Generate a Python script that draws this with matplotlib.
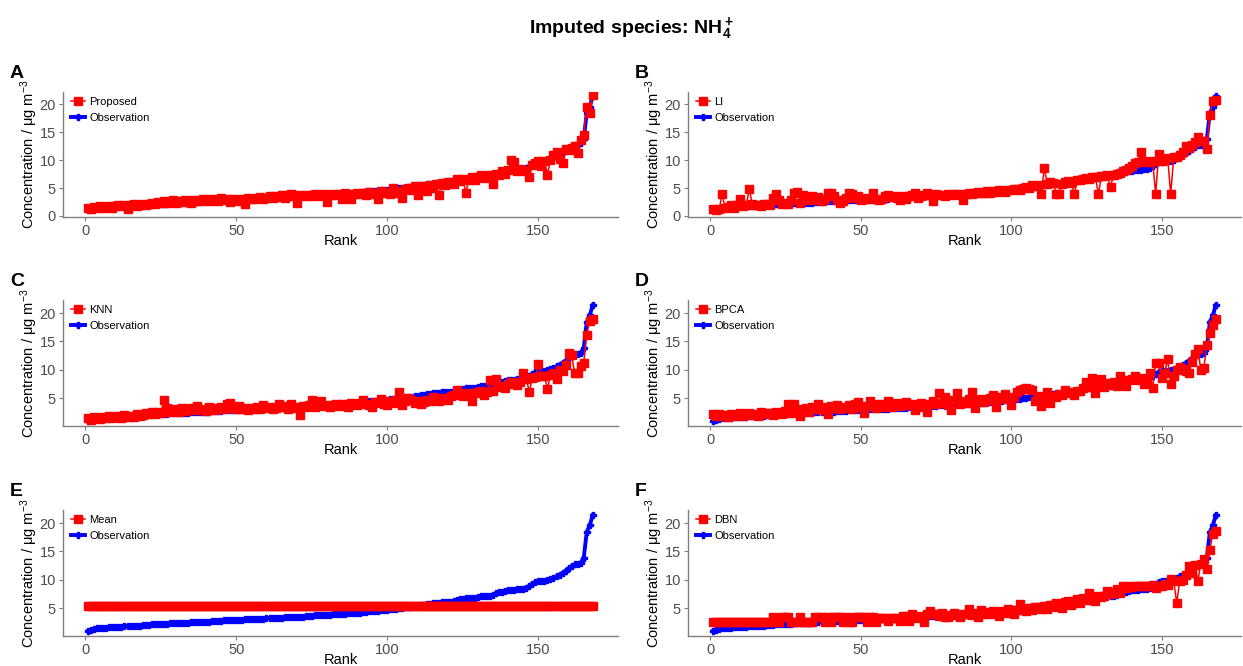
import matplotlib
matplotlib.use("Agg")
import matplotlib.pyplot as plt
import numpy as np

plt.rcParams['font.family'] = ['Liberation Sans', 'DejaVu Sans']
plt.rcParams['mathtext.fontset'] = 'custom'
plt.rcParams['mathtext.rm'] = 'Liberation Sans'
plt.rcParams['mathtext.it'] = 'Liberation Sans:italic'
plt.rcParams['mathtext.bf'] = 'Liberation Sans:bold'

# ---- data ----
rank = list(range(1, 169))

observation = [
    1.0, 1.2, 1.3, 1.4, 1.4, 1.5, 1.5, 1.6, 1.6, 1.7,
    1.7, 1.7, 1.8, 1.8, 1.8, 1.9, 1.9, 1.9, 2.0, 2.0,
    2.0, 2.1, 2.1, 2.1, 2.2, 2.2, 2.2, 2.3, 2.3, 2.3,
    2.4, 2.4, 2.4, 2.4, 2.5, 2.5, 2.5, 2.6, 2.6, 2.6,
    2.6, 2.7, 2.7, 2.7, 2.7, 2.8, 2.8, 2.8, 2.8, 2.9,
    2.9, 2.9, 3.0, 3.0, 3.0, 3.0, 3.1, 3.1, 3.1, 3.2,
    3.2, 3.2, 3.3, 3.3, 3.3, 3.4, 3.4, 3.4, 3.5, 3.5,
    3.5, 3.5, 3.6, 3.6, 3.6, 3.7, 3.7, 3.7, 3.8, 3.8,
    3.8, 3.9, 3.9, 3.9, 4.0, 4.0, 4.1, 4.1, 4.1, 4.2,
    4.2, 4.3, 4.3, 4.4, 4.4, 4.5, 4.5, 4.6, 4.7, 4.7,
    4.8, 4.8, 4.9, 5.0, 5.0, 5.1, 5.2, 5.2, 5.3, 5.4,
    5.5, 5.6, 5.7, 5.7, 5.8, 5.9, 5.9, 6.0, 6.0, 6.1,
    6.1, 6.2, 6.5, 6.6, 6.6, 6.7, 6.7, 6.8, 6.8, 6.9,
    7.1, 7.2, 7.2, 7.2, 7.3, 7.6, 7.8, 7.9, 8.0, 8.1,
    8.2, 8.2, 8.3, 8.4, 8.4, 8.6, 8.9, 9.3, 9.6, 9.7,
    9.8, 9.8, 9.9, 10.1, 10.3, 10.6, 10.9, 11.2, 11.6, 12.0,
    12.4, 12.7, 12.8, 13.0, 13.8, 18.4, 19.6, 21.4]

proposed = [
    1.5, 1.3, 1.6, 1.4, 1.7, 1.5, 1.6, 1.8, 1.5, 1.7,
    2.0, 1.7, 1.9, 1.2, 1.9, 2.1, 1.8, 2.0, 2.2, 1.9,
    2.1, 2.4, 2.2, 2.5, 2.3, 2.6, 2.4, 2.5, 2.8, 2.4,
    2.7, 2.5, 2.8, 2.6, 2.4, 2.9, 2.7, 2.6, 3.0, 2.8,
    2.7, 3.1, 2.9, 2.6, 3.2, 2.8, 3.0, 2.5, 3.1, 2.9,
    2.7, 3.0, 2.1, 3.3, 3.1, 3.0, 3.2, 3.4, 3.1, 3.3,
    3.5, 3.2, 3.6, 3.4, 3.7, 3.3, 3.8, 3.9, 3.5, 2.3,
    3.7, 3.6, 3.8, 3.5, 3.7, 3.9, 3.6, 3.8, 4.0, 2.5,
    3.8, 4.0, 3.7, 3.9, 3.0, 4.1, 3.8, 3.0, 4.0, 4.2,
    3.9, 4.1, 3.7, 4.3, 4.0, 4.2, 3.0, 4.4, 4.1, 4.3,
    4.0, 5.0, 4.5, 4.2, 3.3, 4.9, 5.1, 4.6, 5.3, 3.8,
    5.4, 5.2, 4.5, 5.6, 5.0, 5.8, 3.7, 5.9, 5.5, 6.0,
    6.1, 5.7, 6.6, 6.2, 6.7, 4.2, 6.5, 6.9, 6.4, 7.0,
    7.3, 6.8, 7.2, 7.4, 5.8, 7.6, 7.3, 8.0, 7.5, 8.2,
    10.0, 9.7, 8.0, 8.5, 8.3, 8.1, 7.0, 9.1, 9.5, 9.8,
    8.9, 9.9, 7.4, 10.0, 11.0, 11.4, 10.2, 9.5, 12.0, 11.8,
    12.2, 12.6, 11.3, 13.6, 14.5, 19.6, 18.4, 21.7]

li = [
    1.2, 1.1, 1.2, 3.9, 1.4, 1.6, 1.9, 1.5, 2.0, 3.0,
    1.8, 2.0, 4.8, 2.2, 1.9, 2.0, 1.8, 2.1, 2.2, 2.0,
    3.2, 4.0, 2.9, 2.1, 2.3, 2.2, 2.8, 4.2, 4.3, 2.4,
    3.8, 2.9, 3.3, 3.6, 2.8, 3.4, 2.7, 3.0, 4.2, 4.1,
    3.6, 2.8, 2.3, 2.6, 3.3, 4.1, 3.9, 3.2, 3.6, 2.9,
    3.0, 3.3, 3.1, 4.2, 3.0, 2.8, 3.1, 3.6, 3.7, 3.4,
    3.5, 3.2, 2.9, 3.6, 3.1, 3.5, 3.7, 4.2, 3.3, 3.6,
    3.8, 4.2, 3.7, 2.7, 3.9, 3.7, 3.8, 3.6, 3.9, 3.8,
    3.9, 4.0, 3.8, 2.9, 4.0, 4.1, 3.9, 4.2, 4.3, 4.1,
    4.2, 4.4, 4.1, 4.5, 4.3, 4.6, 4.4, 4.3, 4.7, 4.6,
    4.8, 4.9, 4.6, 5.0, 5.2, 5.1, 5.6, 5.3, 5.5, 3.9,
    8.6, 5.8, 6.1, 5.9, 3.9, 3.9, 5.8, 6.1, 6.2, 5.9,
    3.9, 6.4, 6.5, 6.7, 6.8, 6.6, 7.0, 6.9, 3.9, 7.2,
    7.2, 7.3, 5.2, 7.4, 7.5, 7.7, 8.0, 8.3, 8.6, 9.0,
    9.4, 9.6, 11.4, 9.8, 9.6, 9.7, 9.8, 3.9, 11.1, 9.9,
    10.0, 10.3, 3.9, 10.5, 10.6, 11.0, 11.5, 12.5, 12.2, 12.8,
    13.3, 14.1, 13.5, 13.4, 12.0, 18.1, 20.6, 20.7]

knn = [
    1.4, 1.2, 1.6, 1.5, 1.3, 1.7, 1.5, 1.9, 1.4, 1.6,
    1.8, 1.5, 2.0, 1.7, 1.9, 1.6, 2.2, 1.8, 2.0, 2.3,
    2.1, 2.5, 2.2, 2.6, 2.4, 4.6, 3.3, 2.5, 2.8, 3.0,
    2.6, 3.2, 2.7, 2.9, 3.3, 2.8, 3.6, 2.9, 3.1, 2.7,
    3.4, 3.0, 2.8, 3.2, 3.5, 3.0, 3.9, 4.2, 3.3, 3.1,
    3.6, 3.0, 3.2, 2.9, 3.3, 3.1, 3.4, 3.0, 3.7, 3.2,
    3.5, 3.0, 3.3, 4.0, 3.4, 3.6, 3.1, 3.9, 3.5, 3.3,
    2.0, 3.6, 3.4, 3.8, 4.6, 3.5, 3.7, 4.5, 3.6, 3.8,
    3.5, 3.7, 3.9, 3.6, 4.0, 3.8, 3.5, 4.1, 3.9, 3.7,
    4.2, 4.6, 4.0, 3.8, 3.5, 4.3, 4.1, 4.8, 4.0, 3.7,
    4.4, 4.2, 4.6, 6.1, 3.8, 4.4, 5.0, 4.6, 4.2, 4.5,
    4.0, 4.3, 4.7, 4.4, 5.1, 4.8, 4.5, 5.0, 4.9, 4.6,
    5.3, 5.5, 6.5, 5.9, 5.4, 5.6, 5.8, 4.4, 5.9, 6.0,
    6.2, 5.6, 6.1, 8.2, 6.3, 8.3, 7.0, 7.2, 6.8, 7.5,
    7.9, 7.6, 7.3, 7.8, 9.5, 8.4, 6.1, 8.6, 8.7, 11.0,
    8.8, 8.9, 6.6, 9.0, 9.4, 8.3, 9.9, 9.7, 10.9, 12.9,
    12.6, 9.4, 9.4, 10.6, 11.2, 16.2, 18.6, 19.0]

bpca = [
    2.2, 1.9, 2.1, 1.8, 2.0, 1.7, 2.2, 1.9, 2.0, 2.3,
    1.8, 2.1, 2.4, 2.0, 2.2, 1.9, 2.5, 2.1, 2.3, 2.4,
    2.0, 2.6, 2.3, 2.2, 2.7, 3.9, 2.4, 4.0, 3.0, 1.8,
    2.9, 3.3, 2.6, 3.5, 3.1, 3.9, 2.8, 3.4, 2.1, 3.6,
    3.2, 3.8, 3.0, 3.5, 3.3, 3.7, 3.1, 3.9, 4.3, 3.4,
    2.3, 3.6, 4.5, 3.8, 3.2, 4.0, 3.5, 3.7, 4.5, 3.4,
    3.8, 4.1, 3.6, 3.9, 4.3, 3.7, 4.0, 2.8, 3.8, 4.2,
    3.5, 2.6, 4.0, 4.4, 3.9, 5.9, 4.1, 5.2, 3.8, 2.8,
    4.6, 5.8, 4.0, 4.5, 4.2, 4.8, 6.1, 3.2, 4.6, 4.9,
    4.3, 4.7, 5.0, 5.5, 3.5, 4.8, 5.2, 5.7, 4.9, 3.8,
    5.1, 6.0, 6.4, 6.6, 6.7, 6.6, 6.5, 4.4, 5.3, 3.6,
    5.0, 6.0, 4.2, 5.4, 5.1, 5.7, 5.5, 6.4, 5.8, 6.1,
    5.6, 6.2, 6.3, 6.7, 7.9, 6.9, 8.5, 5.8, 7.2, 8.3,
    7.0, 7.6, 7.3, 7.9, 7.1, 8.8, 7.8, 7.1, 8.1, 8.4,
    8.9, 8.2, 8.6, 7.5, 8.0, 9.4, 6.7, 11.2, 11.1, 8.5,
    9.5, 11.8, 7.5, 8.8, 9.9, 10.4, 10.1, 9.7, 9.5, 11.4,
    12.7, 13.7, 10.0, 10.3, 14.3, 16.4, 17.8, 19.0]

dbn = [
    2.5, 2.5, 2.5, 2.5, 2.5, 2.5, 2.5, 2.5, 2.5, 2.5,
    2.5, 2.5, 2.5, 2.5, 2.5, 2.5, 2.5, 2.5, 2.5, 2.5,
    3.5, 2.5, 2.5, 3.5, 3.5, 3.5, 2.5, 2.5, 2.5, 3.5,
    2.5, 2.5, 2.5, 2.5, 3.5, 3.5, 3.5, 2.5, 3.5, 2.5,
    3.5, 3.5, 3.5, 2.5, 3.5, 2.5, 2.5, 3.5, 3.5, 3.5,
    3.5, 2.5, 3.5, 3.5, 2.5, 3.3, 3.3, 3.3, 2.7, 3.3,
    3.3, 3.3, 2.7, 3.6, 3.6, 2.7, 3.9, 3.4, 3.3, 3.6,
    2.6, 3.9, 4.4, 3.9, 3.9, 3.6, 4.1, 3.5, 3.5, 3.8,
    4.2, 3.8, 3.5, 4.0, 3.9, 4.8, 3.7, 4.2, 3.4, 4.6,
    3.9, 4.3, 4.0, 4.5, 4.1, 3.6, 4.4, 4.2, 4.9, 4.3,
    4.0, 4.6, 5.7, 4.8, 4.4, 5.0, 4.7, 5.2, 5.1, 4.9,
    5.3, 4.8, 5.6, 5.2, 5.9, 5.5, 5.0, 6.0, 6.2, 5.6,
    6.3, 6.6, 5.9, 6.8, 6.4, 7.6, 6.5, 6.2, 7.2, 7.0,
    7.1, 8.0, 7.4, 7.8, 8.4, 7.6, 8.8, 8.5, 8.8, 8.7,
    8.8, 8.8, 8.8, 8.8, 8.8, 8.8, 9.0, 8.6, 8.9, 8.8,
    9.2, 9.0, 10.2, 9.7, 5.9, 9.8, 10.0, 10.9, 12.4, 11.2,
    12.6, 9.8, 12.8, 13.6, 11.9, 15.3, 18.1, 18.6]

mean_value = 5.4
mean_imp = [mean_value] * len(rank)

panels = [
    ("A", "Proposed", proposed),
    ("B", "LI", li),
    ("C", "KNN", knn),
    ("D", "BPCA", bpca),
    ("E", "Mean", mean_imp),
    ("F", "DBN", dbn),
]

# ---- layout ----
W, H = 1243, 666
fig = plt.figure(figsize=(W / 100, H / 100), dpi=100)

col_px = [(63, 618), (688, 1241)]
row_px = [(92, 217), (300, 426), (510, 636)]
ylims = [(-0.18, 22.2), (0.06, 22.3), (0.06, 22.3)]
yticks = [[0, 5, 10, 15, 20], [5, 10, 15, 20], [5, 10, 15, 20]]

grey = "#4D4D4D"
axis_grey = "#7F7F7F"

for i, (tag, name, values) in enumerate(panels):
    r, c = divmod(i, 2)
    x0, x1 = col_px[c]
    y0, y1 = row_px[r]
    ax = fig.add_axes([x0 / W, 1 - y1 / H, (x1 - x0) / W, (y1 - y0) / H])

    ax.plot(rank, observation, color="blue", lw=2.8, marker="P", ms=4,
            mec="blue", label="Observation", zorder=2)
    ax.plot(rank, values, color="red", lw=1.1, marker="s", ms=6.2,
            mec="red", label=name, zorder=3)

    ax.set_xlim(-7.35, 176.35)
    ax.set_ylim(*ylims[r])
    ax.set_xticks([0, 50, 100, 150])
    ax.set_yticks(yticks[r])

    for side in ["top", "right"]:
        ax.spines[side].set_visible(False)
    for side in ["left", "bottom"]:
        ax.spines[side].set_color(axis_grey)
        ax.spines[side].set_linewidth(1.0)
    ax.tick_params(colors=axis_grey, labelcolor=grey, labelsize=10.5,
                   length=3, width=0.8, pad=2)

    ax.set_xlabel("Rank", fontsize=10.5, labelpad=-3)
    ax.set_ylabel(r"Concentration / μg m$^{-3}$", fontsize=10.5)
    ax.yaxis.set_label_coords(-0.041, 0.5)

    h, l = ax.get_legend_handles_labels()
    ax.legend(h[::-1], l[::-1], loc="upper left", bbox_to_anchor=(0.0, 1.02),
              frameon=False, fontsize=8, handlelength=1.3, handletextpad=0.35,
              labelspacing=0.5, borderaxespad=0.3)

    fig.text((x0 - 53) / W, 1 - (y0 - 19) / H, tag, fontsize=14,
             fontweight="bold", va="center", ha="left")

fig.suptitle(r"Imputed species: NH$\mathbf{_4^+}$", x=0.508, y=1 - 28 / H,
             va="center", fontsize=14, fontweight="bold")

fig.savefig("out.png", dpi=100, facecolor="white")
